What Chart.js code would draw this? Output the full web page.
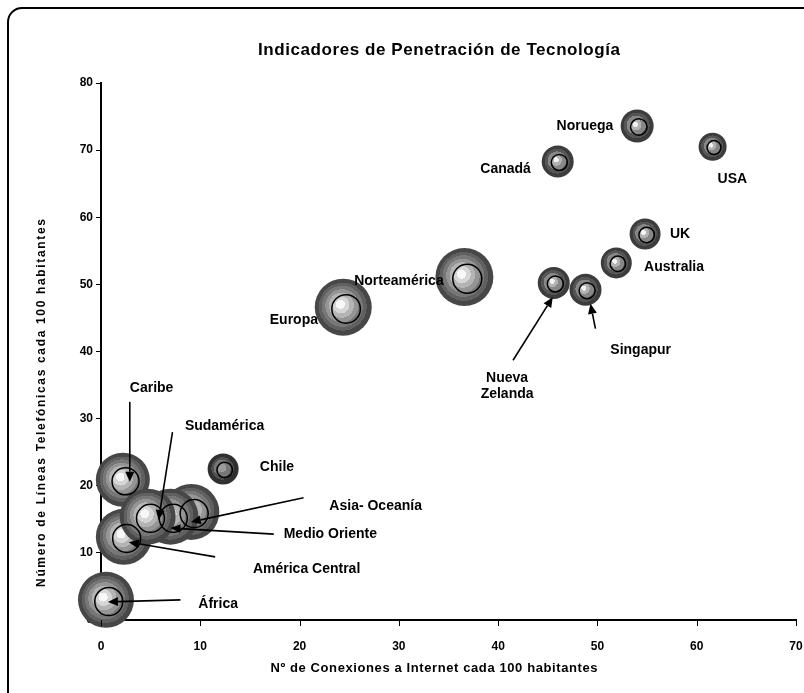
<!DOCTYPE html>
<html><head><meta charset="utf-8">
<script src="https://cdn.jsdelivr.net/npm/chart.js@4/dist/chart.umd.min.js"></script>
<style>html,body{margin:0;padding:0;background:#fff}canvas{display:block}</style>
</head><body>
<canvas id="c" width="804" height="693"></canvas>
<script>
// ---- Data ----
const regiones  = ['África','Caribe','América Central','Asia- Oceanía','Medio Oriente','Sudamérica','Chile','Europa','Norteamérica','Nueva Zelanda','Singapur','Australia','UK','Canadá','Noruega','USA'];
const internet  = [0.5, 2.2, 2.3, 9.1, 7.0, 4.7, 12.3, 24.4, 36.6, 45.6, 48.8, 51.9, 54.8, 46.0, 54.0, 61.6];
const telefonos = [3.0, 20.9, 12.4, 16.1, 15.4, 15.4, 22.5, 46.6, 51.1, 50.2, 49.2, 53.2, 57.5, 68.3, 73.6, 70.5];
const tamano    = [28, 27, 28, 28, 28, 28, 15.5, 28.5, 29, 16, 16, 15.5, 15.5, 16, 16.5, 14];
const ticksX = [0, 10, 20, 30, 40, 50, 60, 70];
const ticksY = [0, 10, 20, 30, 40, 50, 60, 70, 80];
const titulo = 'Indicadores de Penetración de Tecnología';
const tituloX = 'Nº de Conexiones a Internet cada 100 habitantes';
const tituloY = 'Número de Líneas Telefónicas cada 100 habitantes';

// ---- Annotation layout (in data units) ----
const anotaciones = {
  'África':          {lines:['África'], at:[9.8, 2.4], align:'left', from:[8.0, 3.0], to:[0.7, 2.7]},
  'Caribe':          {lines:['Caribe'], at:[2.9, 34.6], align:'left', from:[2.9, 32.5], to:[2.9, 20.6]},
  'América Central': {lines:['América Central'], at:[15.3, 7.6], align:'left', from:[11.5, 9.4], to:[2.8, 11.6]},
  'Asia- Oceanía':   {lines:['Asia- Oceanía'], at:[23.0, 17.0], align:'left', from:[20.4, 18.2], to:[9.05, 14.6]},
  'Medio Oriente':   {lines:['Medio Oriente'], at:[18.4, 12.8], align:'left', from:[17.4, 12.8], to:[7.0, 13.7]},
  'Sudamérica':      {lines:['Sudamérica'], at:[8.45, 28.9], align:'left', from:[7.2, 28.0], to:[5.8, 14.9]},
  'Chile':           {lines:['Chile'], at:[16.0, 22.8], align:'left'},
  'Europa':          {lines:['Europa'], at:[17.0, 44.6], align:'left'},
  'Norteamérica':    {lines:['Norteamérica'], at:[25.5, 50.5], align:'left'},
  'Nueva Zelanda':   {lines:['Nueva','Zelanda'], at:[40.9, 36.1], align:'center', from:[41.5, 38.7], to:[45.5, 48.1]},
  'Singapur':        {lines:['Singapur'], at:[51.3, 40.2], align:'left', from:[49.8, 43.4], to:[49.3, 47.1]},
  'Australia':       {lines:['Australia'], at:[54.7, 52.5], align:'left'},
  'UK':              {lines:['UK'], at:[57.3, 57.5], align:'left'},
  'Canadá':          {lines:['Canadá'], at:[43.3, 67.1], align:'right'},
  'Noruega':         {lines:['Noruega'], at:[51.6, 73.6], align:'right'},
  'USA':             {lines:['USA'], at:[62.1, 65.7], align:'left'}
};
const oscuros = {'Chile': true};

const FONT = "'Liberation Sans', Arial, sans-serif";

function relleno(ctx) {
  const ch = ctx.chart, raw = ctx.raw;
  if (!raw || !ch.scales || !ch.scales.x || !ch.scales.y) return '#777';
  const cx = ch.scales.x.getPixelForValue(raw.x);
  const cy = ch.scales.y.getPixelForValue(raw.y);
  const r = raw.r;
  if (![cx, cy, r].every(Number.isFinite)) return '#777';
  const g = ch.ctx.createRadialGradient(cx - 0.12 * r, cy - 0.12 * r, 0, cx, cy, r);
  let bands;
  const name = regiones[ctx.dataIndex];
  if (oscuros[name]) {
    bands = [[0, 0.3, '#9a9a9a'], [0.3, 0.55, '#777777'], [0.55, 0.72, '#505050'], [0.72, 1, '#303030']];
  } else if (r > 20) {
    bands = [[0, 0.16, '#f8f8f8'], [0.16, 0.3, '#d6d6d6'], [0.3, 0.44, '#b4b4b4'], [0.44, 0.58, '#959595'],
             [0.58, 0.72, '#777777'], [0.72, 0.84, '#606060'], [0.84, 1, '#474747']];
  } else {
    bands = [[0, 0.16, '#f2f2f2'], [0.16, 0.34, '#b2b2b2'], [0.34, 0.58, '#878787'], [0.58, 0.78, '#555555'], [0.78, 1, '#3c3c3c']];
  }
  bands.forEach(([a, b, c]) => { g.addColorStop(a, c); g.addColorStop(b, c); });
  return g;
}

function spaced(c, text, x, y, width) {
  c.letterSpacing = '0px';
  const w = c.measureText(text).width;
  const sp = Math.max(0, (width - w) / (text.length - 1));
  c.letterSpacing = sp.toFixed(2) + 'px';
  c.textAlign = 'left';
  const w2 = c.measureText(text).width - sp;
  c.fillText(text, x - w2 / 2, y);
  c.letterSpacing = '0px';
}

const decor = {
  id: 'decor',
  beforeDraw(chart) {
    const c = chart.ctx;
    c.save();
    c.fillStyle = '#fff';
    c.fillRect(0, 0, chart.width, chart.height);
    c.strokeStyle = '#000';
    c.lineWidth = 2;
    c.beginPath();
    c.moveTo(8, 720);
    c.lineTo(8, 22);
    c.arcTo(8, 8, 22, 8, 14);
    c.lineTo(820, 8);
    c.stroke();
    c.fillStyle = '#000';
    c.textBaseline = 'middle';
    c.font = 'bold 17px ' + FONT;
    spaced(c, titulo, 439, 50, 362);
    c.font = 'bold 13px ' + FONT;
    spaced(c, tituloX, 434, 668, 327);
    c.translate(42, 403);
    c.rotate(-Math.PI / 2);
    c.font = 'bold 12px ' + FONT;
    spaced(c, tituloY, 0, 0, 368);
    c.restore();
  },
  afterDatasetsDraw(chart) {
    const c = chart.ctx, xs = chart.scales.x, ys = chart.scales.y;
    const meta = chart.getDatasetMeta(0);
    c.save();
    c.strokeStyle = '#000';
    c.lineWidth = 1;
    ticksX.forEach(v => {
      const px = Math.round(xs.getPixelForValue(v)) + 0.5;
      c.beginPath(); c.moveTo(px, ys.bottom); c.lineTo(px, ys.bottom + 6); c.stroke();
    });
    meta.data.forEach((el, i) => {
      const r = tamano[i];
      c.beginPath();
      c.strokeStyle = '#000';
      c.lineWidth = 1.5;
      c.arc(el.x + 0.1 * r, el.y + 0.06 * r, 0.5 * r, 0, Math.PI * 2);
      c.stroke();
    });
    c.fillStyle = '#000';
    c.strokeStyle = '#000';
    c.font = 'bold 14px ' + FONT;
    c.textBaseline = 'middle';
    regiones.forEach(n => {
      const a = anotaciones[n];
      if (!a) return;
      if (a.from) {
        const x1 = xs.getPixelForValue(a.from[0]), y1 = ys.getPixelForValue(a.from[1]);
        const x2 = xs.getPixelForValue(a.to[0]), y2 = ys.getPixelForValue(a.to[1]);
        const ang = Math.atan2(y2 - y1, x2 - x1);
        const L = 10, W = 4.5;
        const bx = x2 - L * Math.cos(ang), by = y2 - L * Math.sin(ang);
        c.lineWidth = 1.6;
        c.beginPath(); c.moveTo(x1, y1); c.lineTo(bx, by); c.stroke();
        c.beginPath();
        c.moveTo(x2, y2);
        c.lineTo(bx + W * Math.sin(ang), by - W * Math.cos(ang));
        c.lineTo(bx - W * Math.sin(ang), by + W * Math.cos(ang));
        c.closePath(); c.fill();
      }
      const tx = xs.getPixelForValue(a.at[0]), ty = ys.getPixelForValue(a.at[1]);
      c.textAlign = a.align;
      a.lines.forEach((t, k) => c.fillText(t, tx, ty + k * 16));
    });
    c.restore();
  }
};

new Chart(document.getElementById('c'), {
  type: 'bubble',
  data: {
    datasets: [{
      data: regiones.map((n, i) => ({x: internet[i], y: telefonos[i], r: tamano[i]})),
      backgroundColor: relleno,
      borderWidth: 0,
      hoverRadius: 0,
      clip: false
    }]
  },
  options: {
    responsive: false,
    animation: false,
    devicePixelRatio: 1,
    events: [],
    layout: {autoPadding: false, padding: {top: 83, right: 8, left: 0, bottom: 0}},
    plugins: {legend: {display: false}, tooltip: {enabled: false}, title: {display: false}},
    scales: {
      x: {
        type: 'linear', min: 0, max: 70,
        afterBuildTicks: s => { s.ticks = ticksX.map(v => ({value: v})); },
        afterFit: s => { s.height = 73; s.paddingLeft = 0; s.paddingRight = 0; },
        grid: {display: true, drawOnChartArea: false, drawTicks: true, tickLength: 18, tickColor: 'rgba(0,0,0,0)', color: 'rgba(0,0,0,0)', lineWidth: 1},
        border: {display: true, color: '#000', width: 2},
        ticks: {color: '#000', font: {family: FONT, weight: 'bold', size: 12}, padding: 1, maxRotation: 0, autoSkip: false}
      },
      y: {
        type: 'linear', min: 0, max: 80,
        afterBuildTicks: s => { s.ticks = ticksY.map(v => ({value: v})); },
        afterFit: s => { s.width = 101; s.paddingTop = 0; s.paddingBottom = 0; },
        grid: {display: true, drawOnChartArea: false, drawTicks: true, tickLength: 5, color: '#000', lineWidth: 1},
        border: {display: true, color: '#000', width: 2},
        ticks: {color: '#000', font: {family: FONT, weight: 'bold', size: 12}, padding: 3, autoSkip: false}
      }
    }
  },
  plugins: [decor]
});
</script>
</body></html>
